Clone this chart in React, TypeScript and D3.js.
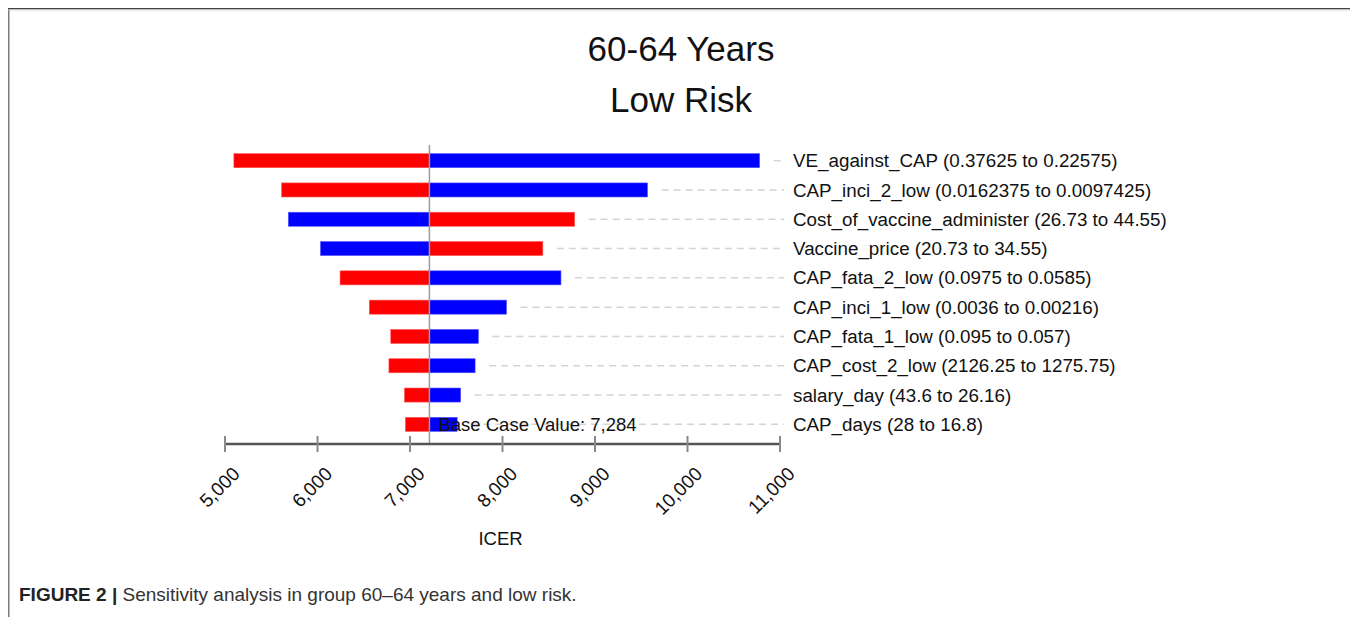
import React from "react";
import * as d3 from "d3";

const titleLines = ["60-64 Years", "Low Risk"];
const params = [
  "VE_against_CAP (0.37625 to 0.22575)",
  "CAP_inci_2_low (0.0162375 to 0.0097425)",
  "Cost_of_vaccine_administer (26.73 to 44.55)",
  "Vaccine_price (20.73 to 34.55)",
  "CAP_fata_2_low (0.0975 to 0.0585)",
  "CAP_inci_1_low (0.0036 to 0.00216)",
  "CAP_fata_1_low (0.095 to 0.057)",
  "CAP_cost_2_low (2126.25 to 1275.75)",
  "salary_day (43.6 to 26.16)",
  "CAP_days (28 to 16.8)",
];
// ICER when parameter at its low value (blue) and high value (red)
const icerLowParam = [10780, 9568, 5684, 6032, 8632, 8044, 7740, 7704, 7548, 7510];
const icerHighParam = [5096, 5612, 8780, 8436, 6244, 6560, 6792, 6772, 6940, 6950];
const baseValue = 7210;
const baseLabel = "Base Case Value: 7,284";
const xTicks = [5000, 6000, 7000, 8000, 9000, 10000, 11000];
const xLabel = "ICER";
const captionBold = "FIGURE 2 |";
const captionText = " Sensitivity analysis in group 60\u201364 years and low risk.";

const W = 1350;
const H = 617;
const FONT = "Arial, 'Liberation Sans', Helvetica, sans-serif";

export default function App() {
  const x = d3.scaleLinear().domain([5000, 11000]).range([217, 772]);
  const y = d3
    .scaleBand<number>()
    .domain(d3.range(params.length))
    .range([138, 138 + 29.3 * params.length])
    .paddingInner(0.52)
    .paddingOuter(0.26);
  const bh = y.bandwidth();
  const axisY = 436;
  const labelX = 785;
  const fmt = d3.format(",");

  return (
    <svg
      width={W}
      height={H}
      style={{ display: "block", marginBottom: -8 }}
      fontFamily={FONT}
    >
      <rect x={0} y={0} width={W} height={H} fill="#fff" />
      {/* frame */}
      <line x1={0.5} y1={0} x2={0.5} y2={H} stroke="#7a7a7a" strokeWidth={2} />
      <line x1={0} y1={0.5} x2={1348} y2={0.5} stroke="#444" strokeWidth={1.5} />
      <line x1={0} y1={1.8} x2={1348} y2={1.8} stroke="#bbb" strokeWidth={1} />
      <line x1={1347.5} y1={0} x2={1347.5} y2={H} stroke="#7a7a7a" strokeWidth={2} />

      {/* title */}
      {titleLines.map((t, i) => (
        <text
          key={t}
          x={673}
          y={53 + i * 51}
          textAnchor="middle"
          fontSize={35}
          fill="#111"
        >
          {t}
        </text>
      ))}

      {/* dashed guide lines */}
      {params.map((p, i) => {
        const end = Math.max(icerLowParam[i], icerHighParam[i]);
        const cy = (y(i) as number) + bh / 2;
        return (
          <line
            key={"d" + i}
            x1={x(end) + 14}
            x2={776}
            y1={cy}
            y2={cy}
            stroke="#d4d4d4"
            strokeWidth={1.5}
            strokeDasharray="7,5"
          />
        );
      })}

      {/* bars */}
      {params.map((p, i) => {
        const yy = y(i) as number;
        const lo = icerLowParam[i];
        const hi = icerHighParam[i];
        return (
          <g key={"b" + i}>
            <rect
              x={Math.min(x(lo), x(baseValue))}
              y={yy}
              width={Math.abs(x(lo) - x(baseValue))}
              height={bh}
              fill="#0000ff"
              stroke="#5a5aff"
              strokeWidth={0.6}
            />
            <rect
              x={Math.min(x(hi), x(baseValue))}
              y={yy}
              width={Math.abs(x(hi) - x(baseValue))}
              height={bh}
              fill="#ff0000"
              stroke="#ff5a5a"
              strokeWidth={0.6}
            />
          </g>
        );
      })}

      {/* base line */}
      <line
        x1={x(baseValue)}
        x2={x(baseValue)}
        y1={137}
        y2={axisY}
        stroke="#9a9a9a"
        strokeWidth={1.5}
      />

      {/* parameter labels */}
      {params.map((p, i) => (
        <text
          key={"l" + i}
          x={labelX}
          y={(y(i) as number) + bh / 2}
          dy="0.35em"
          fontSize={18.8}
          fill="#111"
        >
          {p}
        </text>
      ))}

      {/* base case label */}
      <text
        x={x(baseValue) + 9}
        y={(y(params.length - 1) as number) + bh / 2}
        dy="0.36em"
        fontSize={18.5}
        fill="#111"
      >
        {baseLabel}
      </text>

      {/* axis */}
      <line x1={x(5000)} x2={x(11000)} y1={axisY} y2={axisY} stroke="#555" strokeWidth={2.5} />
      {xTicks.map((t) => (
        <g key={"t" + t}>
          <line x1={x(t)} x2={x(t)} y1={axisY - 8} y2={axisY + 8} stroke="#8a8a8a" strokeWidth={2} />
          <text
            transform={`translate(${x(t) + 16},${axisY + 31}) rotate(-45)`}
            textAnchor="end"
            fontSize={19}
            fill="#111"
          >
            {fmt(t)}
          </text>
        </g>
      ))}
      <text x={x(8000) - 2} y={537} textAnchor="middle" fontSize={18.5} fill="#111">
        {xLabel}
      </text>

      {/* caption */}
      <text x={11} y={593} fontSize={19} fill="#333" fontFamily={FONT}>
        <tspan fontWeight="bold" fill="#222">
          {captionBold}
        </tspan>
        <tspan>{captionText}</tspan>
      </text>
    </svg>
  );
}
